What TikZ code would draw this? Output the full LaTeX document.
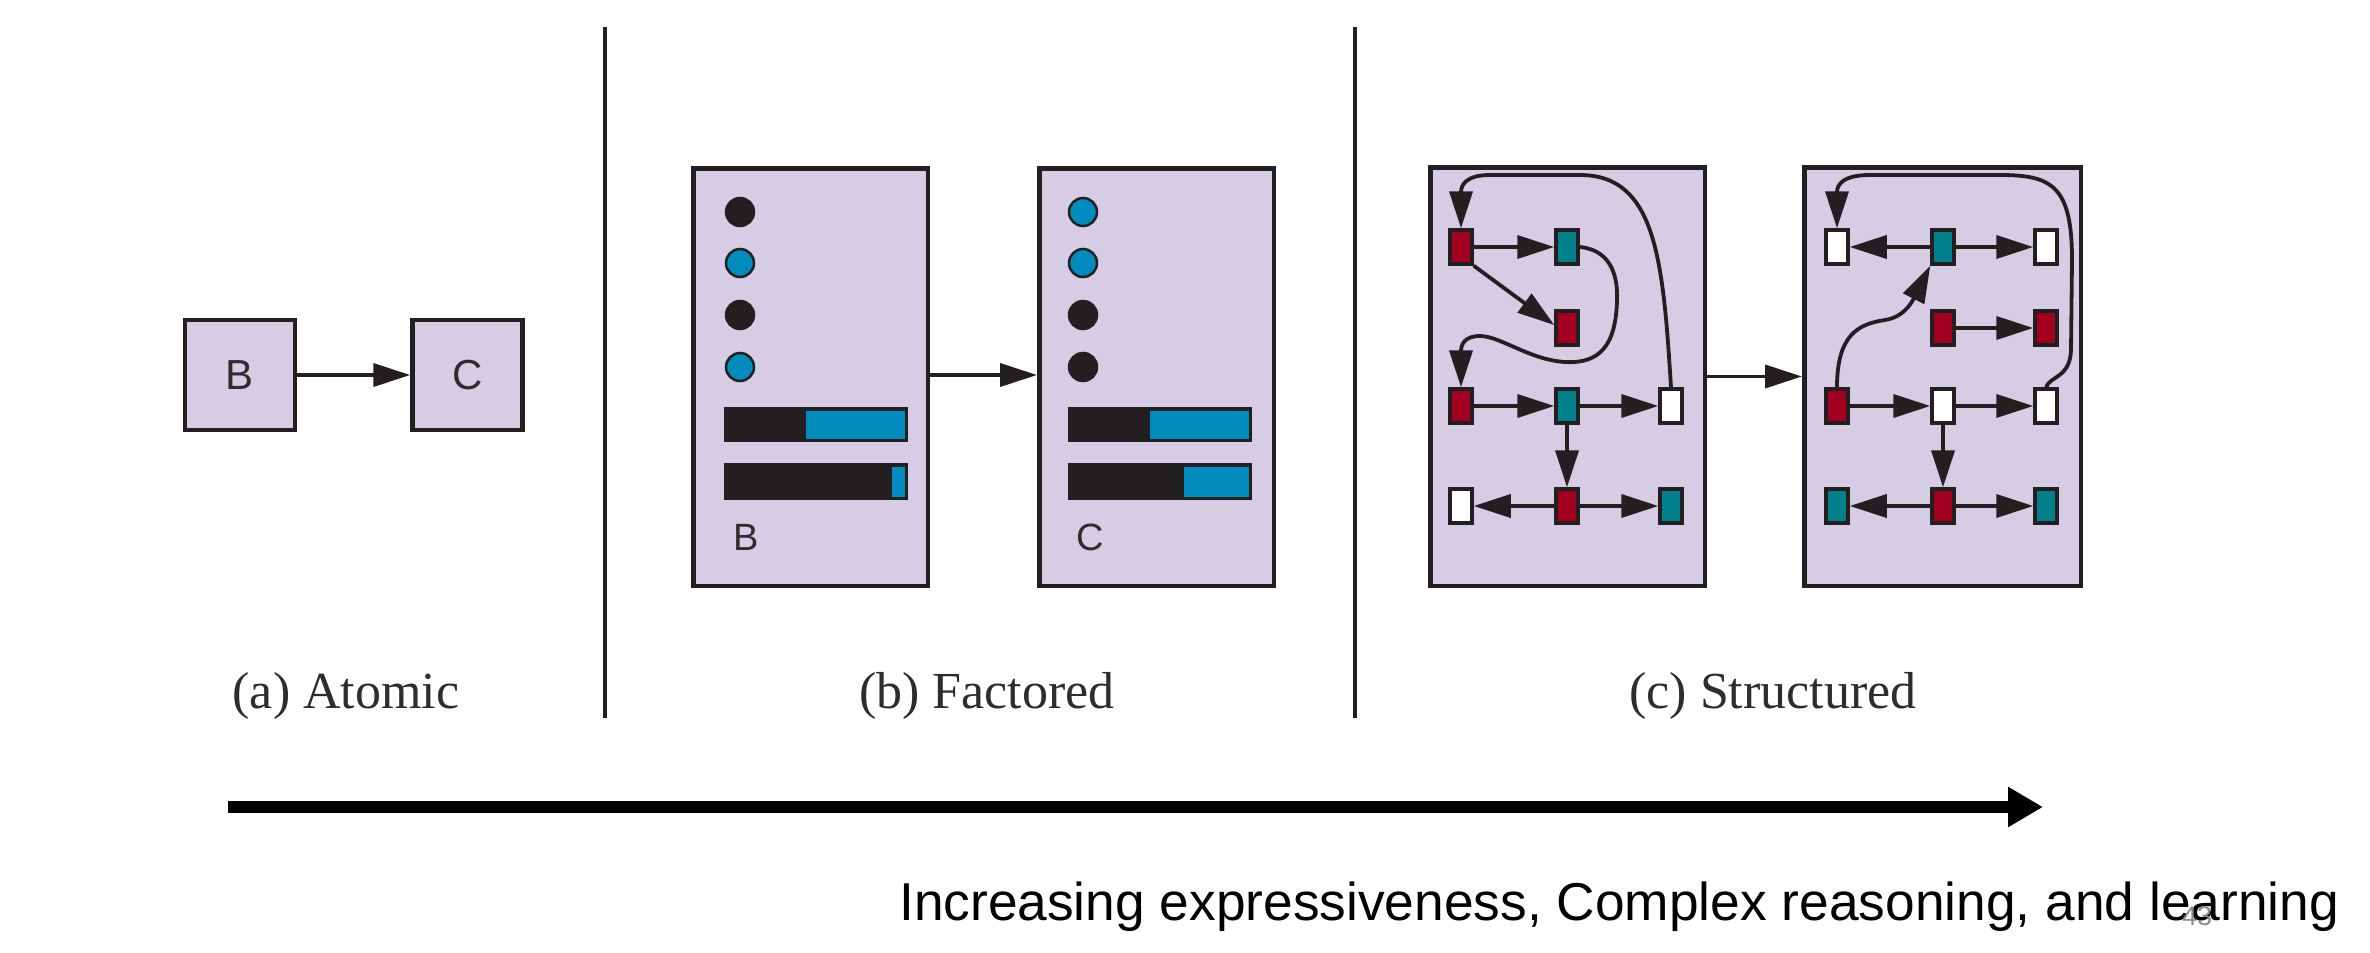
\documentclass[tikz,border=0pt]{standalone}
\usepackage{fontspec}
\setmainfont{Liberation Serif}
\setsansfont{Liberation Sans}
\usetikzlibrary{arrows.meta}
\definecolor{lav}{RGB}{214,204,228}
\definecolor{dotblue}{RGB}{0,141,190}
\definecolor{nred}{RGB}{163,0,33}
\definecolor{nteal}{RGB}{0,128,138}
\definecolor{ink}{RGB}{35,31,32}
\definecolor{txt}{RGB}{45,45,45}
\definecolor{pgno}{RGB}{140,140,140}
\begin{document}
\begin{tikzpicture}[x=1pt,y=-1pt,
  panel/.style={draw=ink,line width=4.5pt,fill=lav,inner sep=0pt},
  dotnode/.style={circle,draw=ink,line width=2.5pt,minimum size=28pt,inner sep=0pt},
  sn/.style={draw=ink,line width=3.5pt,minimum width=22pt,minimum height=34pt,inner sep=0pt},
  snred/.style={sn,fill=nred},
  snteal/.style={sn,fill=nteal},
  snwhite/.style={sn,fill=white},
  arr/.style={draw=ink,line width=3.8pt,-{Triangle[length=37pt,width=23pt]}},
  divider/.style={draw=ink,line width=3.5pt},
  caption/.style={anchor=base,inner sep=0pt,text=txt,font=\fontsize{52}{60}\selectfont},
  boxlabel/.style={anchor=base west,inner sep=0pt,text=txt,font=\fontsize{38}{44}\selectfont\sffamily},
]
\useasboundingbox[fill=white] (0,0) rectangle (2370,953);

% ---------- (a) Atomic ----------
\node[panel,minimum width=110pt,minimum height=110pt] (aB) at (240,375) {\fontsize{42}{42}\selectfont\sffamily\color{txt}B};
\node[panel,minimum width=110pt,minimum height=110pt] (aC) at (467.5,375) {\fontsize{42}{42}\selectfont\sffamily\color{txt}C};
\draw[arr] (aB.east) -- (aC.west);
\node[caption] (capa) at (346,708) {(a) Atomic};

% dividers
\draw[divider] (605,27) -- (605,718);
\draw[divider] (1355,27) -- (1355,718);

% ---------- (b) Factored ----------
\node[panel,minimum width=234.5pt,minimum height=417.5pt] (bL) at (810.5,377) {};
\node[panel,minimum width=234.5pt,minimum height=417.5pt] (bR) at (1156.5,377) {};
\draw[arr] ([yshift=2pt]bL.east) -- ([yshift=2pt]bR.west);

\node[dotnode,fill=ink]     (bL1) at (740,212) {};
\node[dotnode,fill=dotblue] (bL2) at (740,263) {};
\node[dotnode,fill=ink]     (bL3) at (740,315) {};
\node[dotnode,fill=dotblue] (bL4) at (740,367) {};
\node[dotnode,fill=dotblue] (bR1) at (1083,212) {};
\node[dotnode,fill=dotblue] (bR2) at (1083,263) {};
\node[dotnode,fill=ink]     (bR3) at (1083,315) {};
\node[dotnode,fill=ink]     (bR4) at (1083,367) {};

\fill[ink] (724,407) rectangle (908,442);
\fill[dotblue] (806,410.5) rectangle (904.5,438.5);
\fill[ink] (724,463) rectangle (908,500);
\fill[dotblue] (892,466.5) rectangle (904.5,496.5);
\fill[ink] (1068,407) rectangle (1252,442);
\fill[dotblue] (1150,410.5) rectangle (1248.5,438.5);
\fill[ink] (1068,463) rectangle (1252,500);
\fill[dotblue] (1184,466.5) rectangle (1248.5,496.5);

\node[boxlabel] (bLl) at (733,550) {B};
\node[boxlabel] (bRl) at (1076,550) {C};
\node[caption] (capb) at (987,708) {(b) Factored};

% ---------- (c) Structured ----------
\node[panel,minimum width=274.5pt,minimum height=418.5pt] (cL) at (1567.5,376.5) {};
\node[panel,minimum width=276.5pt,minimum height=418.5pt] (cR) at (1942.5,376.5) {};
\draw[arr] (cL.east) -- (cR.west);

% left structured graph
\node[snred]   (L11) at (1461,247) {};
\node[snteal]  (L12) at (1567,247) {};
\node[snred]   (Lm2) at (1567,328) {};
\node[snred]   (L21) at (1461,406) {};
\node[snteal]  (L22) at (1567,406) {};
\node[snwhite] (L23) at (1671,406) {};
\node[snwhite] (L31) at (1461,506) {};
\node[snred]   (L32) at (1567,506) {};
\node[snteal]  (L33) at (1671,506) {};

\draw[arr] (L11.east) -- (L12.west);
\draw[arr] (L11.south east) -- ([yshift=3pt]Lm2.west);
\draw[arr] (L21.east) -- (L22.west);
\draw[arr] (L22.east) -- (L23.west);
\draw[arr] (L22.south) -- (L32.north);
\draw[arr] (L32.west) -- (L31.east);
\draw[arr] (L32.east) -- (L33.west);
\draw[arr] (L12.east) .. controls (1612,250) and (1618,278) .. (1617,300)
  .. controls (1616,345) and (1600,364) .. (1565,362)
  .. controls (1530,360) and (1500,336) .. (1480,336)
  .. controls (1464,336) and (1461,345) .. (L21.north);
\draw[arr] (L23.north) .. controls (1663,260) and (1656,175) .. (1580,175)
  -- (1490,175) .. controls (1466,175) and (1461,185) .. (L11.north);

% right structured graph
\node[snwhite] (R11) at (1837,247) {};
\node[snteal]  (R12) at (1943,247) {};
\node[snwhite] (R13) at (2046,247) {};
\node[snred]   (Rm2) at (1943,328) {};
\node[snred]   (Rm3) at (2046,328) {};
\node[snred]   (R21) at (1837,406) {};
\node[snwhite] (R22) at (1943,406) {};
\node[snwhite] (R23) at (2046,406) {};
\node[snteal]  (R31) at (1837,506) {};
\node[snred]   (R32) at (1943,506) {};
\node[snteal]  (R33) at (2046,506) {};

\draw[arr] (R12.west) -- (R11.east);
\draw[arr] (R12.east) -- (R13.west);
\draw[arr] (Rm2.east) -- (Rm3.west);
\draw[arr] (R21.east) -- (R22.west);
\draw[arr] (R22.east) -- (R23.west);
\draw[arr] (R22.south) -- (R32.north);
\draw[arr] (R32.west) -- (R31.east);
\draw[arr] (R32.east) -- (R33.west);
\draw[arr] (R21.north) .. controls (1837,335) and (1858,324) .. (1885,320)
  .. controls (1905,317) and (1913,300) .. (R12.south west);
\draw[arr] (R23.north) .. controls (2050,376) and (2070,378) .. (2071,350)
  -- (2072,260) .. controls (2072,186) and (2052,175) .. (2000,175)
  -- (1870,175) .. controls (1841,175) and (1837,186) .. (R11.north);

\node[caption] (capc) at (1773,708) {(c) Structured};

% ---------- bottom arrow and text ----------
\coordinate (bigS) at (228,807);
\coordinate (bigE) at (2043,807);
\draw[line width=12pt,black,-{Triangle[length=35pt,width=38pt]}] (bigS) -- (bigE);
\node[anchor=base west,inner sep=0pt,font=\fontsize{53.3}{60}\selectfont\sffamily] (expr) at (899,920)
  {Increasing expressiveness, Complex reasoning, and learning};
\node[anchor=base west,inner sep=0pt,text=pgno,font=\fontsize{27}{30}\selectfont\sffamily] (pg) at (2182,925) {43};
\end{tikzpicture}
\end{document}
